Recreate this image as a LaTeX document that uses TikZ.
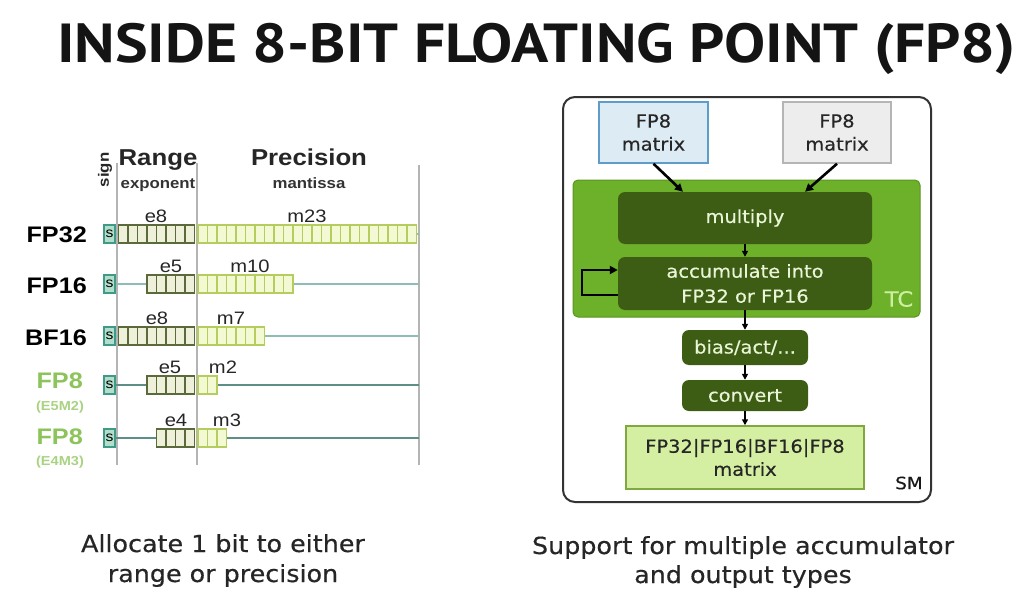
\documentclass[tikz,border=0pt]{standalone}
\usepackage{fontspec}
\setmainfont{DejaVu Sans}[FakeStretch=1.08,FakeBold=0.4]
\newfontfamily\ttlfont{PT Sans}[FakeStretch=1.12]
\newfontfamily\arl{Liberation Sans}[FakeStretch=1.12]
\usepackage{xcolor}
\usetikzlibrary{arrows.meta,calc,fit,positioning}

\definecolor{signfill}{HTML}{B2DFCB}
\definecolor{signdraw}{HTML}{3F9A88}
\definecolor{expfill}{HTML}{EEF0DA}
\definecolor{expdraw}{HTML}{5B6A3A}
\definecolor{manfill}{HTML}{F3F9D2}
\definecolor{mandraw}{HTML}{B5CD5E}
\definecolor{rowline}{HTML}{8DBDB6}
\definecolor{rowdark}{HTML}{5E8F86}
\definecolor{vgrey}{HTML}{B4B4B4}
\definecolor{fpgreen}{HTML}{8CC35A}
\definecolor{fplight}{HTML}{A9D382}
\definecolor{tcgreen}{HTML}{6DB02A}
\definecolor{tcdraw}{HTML}{5A9620}
\definecolor{opgreen}{HTML}{3D5C14}
\definecolor{optext}{HTML}{EAF5D8}
\definecolor{tctext}{HTML}{CDEFA0}
\definecolor{outfill}{HTML}{D5EFA2}
\definecolor{outdraw}{HTML}{7FA83E}
\definecolor{bluefill}{HTML}{DDEBF5}
\definecolor{bluedraw}{HTML}{5E9CC9}
\definecolor{greyfill}{HTML}{EDEDED}
\definecolor{greydraw}{HTML}{B5B5B5}

\begin{document}
\begin{tikzpicture}[x=1pt,y=-1pt,
    signbox/.style={draw=signdraw,fill=signfill,line width=1.2pt,minimum width=11pt,minimum height=18pt,inner sep=0pt,font=\arl\fontsize{14}{14}\selectfont},
    expcell/.style={draw=expdraw,fill=expfill,line width=1.2pt},
    mancell/.style={draw=mandraw,fill=manfill,line width=1.2pt},
    bitline/.style={line width=1.5pt},
    vline/.style={draw=vgrey,line width=1.5pt},
    bitlbl/.style={anchor=base,inner sep=0pt,text=black!85,font=\arl\fontsize{18}{18}\selectfont},
    rowlbl/.style={anchor=base east,inner sep=0pt,font=\arl\bfseries\fontsize{22.5}{22.5}\selectfont},
    hdlbl/.style={anchor=base,inner sep=0pt,text=black!85,font=\arl\bfseries\fontsize{23}{23}\selectfont},
    sublbl/.style={anchor=base,inner sep=0pt,text=black!80,font=\arl\bfseries\fontsize{15}{15}\selectfont},
    matbox/.style={line width=1.5pt,align=center,text=black!85,minimum width=109pt,minimum height=61pt,font=\fontsize{18}{23}\selectfont},
    opbox/.style={fill=opgreen,rounded corners=7pt,align=center,text=optext,font=\fontsize{18}{25}\selectfont},
    arr/.style={-{Triangle[length=8pt,width=8pt]},line width=2.6pt},
    smallarr/.style={-{Triangle[length=6pt,width=6pt]},line width=1.7pt},
    caplbl/.style={anchor=base,inner sep=0pt,text=black!85,font=\fontsize{23.5}{23.5}\selectfont}]
  \useasboundingbox (0,0) rectangle (1029,589);

  % title
  \node[anchor=base,inner sep=0pt,text=black!92,font=\ttlfont\bfseries\fontsize{55}{55}\selectfont] (ttl) at (536.5,62) {INSIDE 8-BIT FLOATING POINT (FP8)};

  % left: bit layouts
  \coordinate (v1t) at (117,163); \coordinate (v1b) at (117,465);
  \coordinate (v2t) at (197,163); \coordinate (v2b) at (197,465);
  \coordinate (v3t) at (419,165); \coordinate (v3b) at (419,465);
  \draw[vline] (v1t) -- (v1b);
  \draw[vline] (v2t) -- (v2b);
  \draw[vline] (v3t) -- (v3b);

  \node[rotate=90,inner sep=0pt,text=black!85,font=\arl\bfseries\fontsize{15}{15}\selectfont] (sgn) at (105,170) {sign};
  \node[hdlbl] (rng) at (158,165) {Range};
  \node[hdlbl] (prc) at (309,165) {Precision};
  \node[sublbl] (expo) at (158,188) {exponent};
  \node[sublbl] (mant) at (309,188) {mantissa};

  \foreach \r/\y/\ne/\nm/\ex/\mx/\lc in {1/234/8/23/156/307/rowline,2/284/5/10/171/250/rowline,3/336/8/7/157/231/rowline,4/385/5/2/170/223/rowdark,5/438/4/3/176/227/rowdark}{
    \coordinate (e\r) at ({194.5-\ne*9.5},\y);
    \coordinate (m\r) at ({198+\nm*9.5},\y);
    \coordinate (r\r) at (419,\y);
    \node[signbox] (s\r) at (109.5,\y) {s};
    \draw[bitline,draw=\lc] (s\r) -- (e\r);
    \draw[bitline,draw=\lc] (m\r) -- (r\r);
    \foreach \i in {1,...,\ne}
      \draw[expcell] ({194.5-\i*9.5},{\y-9}) rectangle ++(9.5,18);
    \foreach \i in {1,...,\nm}
      \draw[mancell] ({198+(\i-1)*9.5},{\y-9}) rectangle ++(9.5,18);
    \node[bitlbl] (el\r) at (\ex,{\y-12}) {e\ne};
    \node[bitlbl] (ml\r) at (\mx,{\y-12}) {m\nm};
  }

  \node[rowlbl] (fp32) at (87,242) {FP32};
  \node[rowlbl] (fp16) at (87,293) {FP16};
  \node[rowlbl] (bf16) at (87,345) {BF16};
  \node[rowlbl,text=fpgreen] (fp8a) at (83,388) {FP8};
  \node[rowlbl,text=fpgreen] (fp8b) at (83,444) {FP8};
  \node[anchor=base,inner sep=0pt,text=fplight,font=\arl\bfseries\fontsize{13}{13}\selectfont] (e5m2) at (60,410) {(E5M2)};
  \node[anchor=base,inner sep=0pt,text=fplight,font=\arl\bfseries\fontsize{13}{13}\selectfont] (e4m3) at (60,465) {(E4M3)};

  \node[caplbl] (capa) at (223,552) {Allocate 1 bit to either};
  \node[caplbl] (capb) at (223,582) {range or precision};

  % right: tensor core data path
  \node[draw=black!80,line width=2pt,rounded corners=12pt,minimum width=368pt,minimum height=405pt] (sm) at (747,299.5) {};
  \node[fill=tcgreen,draw=tcdraw,line width=1pt,rounded corners=5pt,minimum width=347pt,minimum height=137pt] (tc) at (746.5,248.5) {};
  \node[matbox,draw=bluedraw,fill=bluefill] (matA) at (653.5,132.5) {FP8\\matrix};
  \node[matbox,draw=greydraw,fill=greyfill,minimum width=108pt] (matB) at (837,132.5) {FP8\\matrix};
  \node[opbox,minimum width=254pt,minimum height=52pt] (mul) at (745,218) {multiply};
  \node[opbox,minimum width=254pt,minimum height=53pt] (acc) at (745,283.5) {accumulate into\\FP32 or FP16};
  \node[opbox,minimum width=126pt,minimum height=35pt] (bias) at (745,347.5) {bias/act/...};
  \node[opbox,minimum width=126pt,minimum height=31pt] (conv) at (745,395.5) {convert};
  \node[draw=outdraw,fill=outfill,line width=1.5pt,align=center,text=black!85,minimum width=238pt,minimum height=63pt,font=\fontsize{18}{23}\selectfont] (out) at (745,457.5) {FP32|FP16|BF16|FP8\\matrix};
  \node[text=tctext,font=\fontsize{21}{21}\selectfont] (tcl) at (899,299) {TC};
  \node[text=black!90,font=\fontsize{17}{17}\selectfont] (sml) at (909,483) {SM};

  \draw[arr] (matA.south) -- ($(mul.north west)!0.256!(mul.north east)$);
  \draw[arr] (matB.south) -- ($(mul.north west)!0.736!(mul.north east)$);
  \draw[smallarr] (mul) -- (acc);
  \draw[arr] ([yshift=-11.5pt]acc.west) -- ++(-36,0) |- ([yshift=13.5pt]acc.west);
  \draw[smallarr] (acc) -- (bias);
  \draw[smallarr] (bias) -- (conv);
  \draw[smallarr] (conv) -- (out);

  \node[caplbl] (capc) at (743,554) {Support for multiple accumulator};
  \node[caplbl] (capd) at (743,583) {and output types};
\end{tikzpicture}
\end{document}
